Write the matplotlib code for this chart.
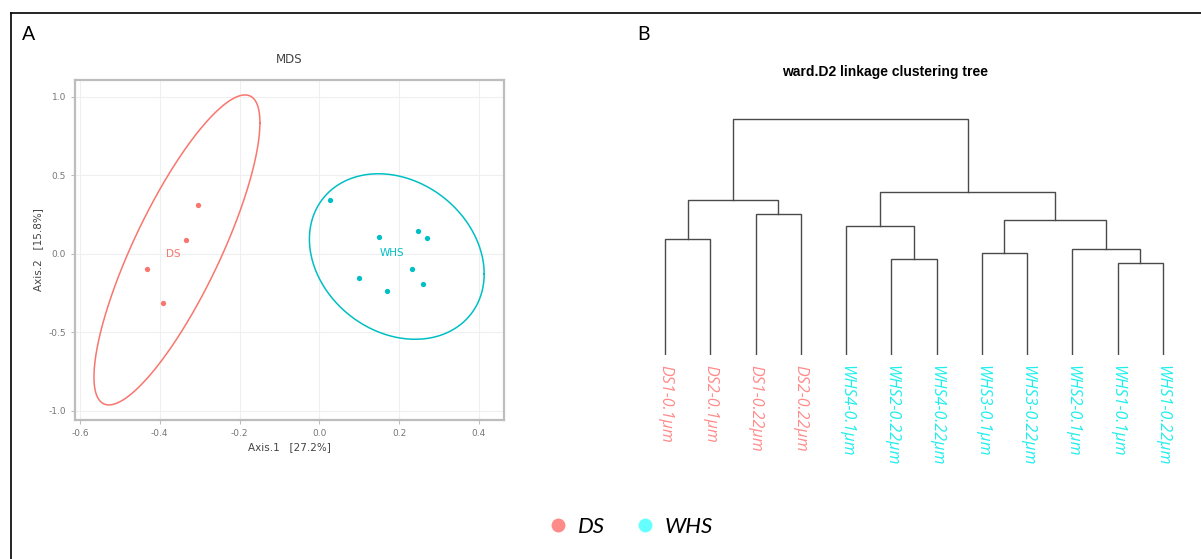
import numpy as np
import matplotlib.pyplot as plt
from matplotlib.lines import Line2D

# ---- panel A: MDS ordination ----
ds_x = [-0.304, -0.334, -0.433, -0.391]
ds_y = [0.312, 0.087, -0.097, -0.314]
whs_x = [0.027, 0.150, 0.246, 0.270, 0.233, 0.100, 0.169, 0.260]
whs_y = [0.342, 0.106, 0.145, 0.100, -0.098, -0.155, -0.236, -0.191]

# ellipse: centre x, centre y, half width, half height, correlation
ds_ell = [-0.357, 0.024, 0.208, 0.987, 0.82]
whs_ell = [0.194, -0.018, 0.219, 0.527, -0.21]

x_ticks = [-0.6, -0.4, -0.2, 0.0, 0.2, 0.4]
y_ticks = [-1.0, -0.5, 0.0, 0.5, 1.0]

# ---- panel B: ward.D2 tree ----
leaves = ["DS1-0.1μm", "DS2-0.1μm", "DS1-0.22μm", "DS2-0.22μm",
          "WHS4-0.1μm", "WHS2-0.22μm", "WHS4-0.22μm", "WHS3-0.1μm",
          "WHS3-0.22μm", "WHS2-0.1μm", "WHS1-0.1μm", "WHS1-0.22μm"]
leaf_group = ["DS"] * 4 + ["WHS"] * 8
# (left, right, height); ids >= 12 point at earlier merges
merges = [
    (0, 1, 1.16),
    (2, 3, 1.41),
    (12, 13, 1.55),
    (5, 6, 0.96),
    (4, 15, 1.29),
    (7, 8, 1.02),
    (10, 11, 0.92),
    (9, 18, 1.06),
    (17, 19, 1.35),
    (16, 20, 1.63),
    (14, 21, 2.36),
]

pt_col = {"DS": "#F8766D", "WHS": "#00BFC4"}
lab_col = {"DS": "#FF8A8A", "WHS": "#1EEEEE"}
leg_col = {"DS": "#FF8A8A", "WHS": "#66FFFF"}

W, H = 1201, 559
fig = plt.figure(figsize=(W / 100, H / 100), dpi=100)

# outer frame (top and left edges)
fig.add_artist(Line2D([10.7 / W, 1], [1 - 12.5 / H, 1 - 12.5 / H], color="black", lw=1.2))
fig.add_artist(Line2D([10.7 / W, 10.7 / W], [0, 1 - 12.5 / H], color="black", lw=1.2))

fig.text(22 / W, 1 - 35 / H, "A", fontsize=14, family="Lato", va="center")
fig.text(637 / W, 1 - 35 / H, "B", fontsize=14, family="Lato", va="center")

# ---- A ----
ax = fig.add_axes([75 / W, (H - 420) / H, 429 / W, 340 / H])
ax.set_xlim(-0.6125, 0.4627)
ax.set_ylim(-1.059, 1.106)
ax.grid(True, color="#EFEFEF", lw=0.8)
ax.set_axisbelow(True)
for s in ax.spines.values():
    s.set_color("#BDBDBD")
    s.set_linewidth(1.6)
ax.set_xticks(x_ticks)
ax.set_yticks(y_ticks)
ax.set_xticklabels([f"{v:.1f}" for v in x_ticks])
ax.set_yticklabels([f"{v:.1f}" for v in y_ticks])
ax.tick_params(colors="#BDBDBD", labelcolor="#777777", labelsize=6.5, length=3, width=0.8)

t = np.linspace(0, 2 * np.pi, 300)
for name, xs, ys, ell in [("DS", ds_x, ds_y, ds_ell), ("WHS", whs_x, whs_y, whs_ell)]:
    cx, cy, hx, hy, r = ell
    ex = cx + hx * np.cos(t)
    ey = cy + hy * (r * np.cos(t) + np.sqrt(1 - r ** 2) * np.sin(t))
    ax.plot(ex, ey, color=pt_col[name], lw=1.1)
    ax.plot(xs, ys, "o", color=pt_col[name], ms=3.8, mec="none")
    ax.text(np.mean(xs), np.mean(ys), name, color=pt_col[name], fontsize=7.5,
            ha="center", va="center")

ax.set_title("MDS", fontsize=8.5, color="#444444", pad=12)
ax.set_xlabel("Axis.1   [27.2%]", fontsize=7.5, color="#444444", labelpad=3)
ax.set_ylabel("Axis.2   [15.8%]", fontsize=7.5, color="#444444", labelpad=4)

# ---- B ----
bx = fig.add_axes([(665 - 22.625) / W, (H - 355) / H, 12 * 45.25 / W, 255 / H])
bx.set_xlim(-0.5, 11.5)
bx.set_ylim(0, 2.55)
bx.axis("off")

pos = {i: float(i) for i in range(len(leaves))}
hgt = {i: 0.0 for i in range(len(leaves))}
for k, (a, b, h) in enumerate(merges):
    bx.plot([pos[a], pos[a], pos[b], pos[b]], [hgt[a], h, h, hgt[b]],
            color="#4A4A4A", lw=1.0, solid_joinstyle="miter")
    pos[len(leaves) + k] = (pos[a] + pos[b]) / 2
    hgt[len(leaves) + k] = h

for i, (lab, g) in enumerate(zip(leaves, leaf_group)):
    bx.text(i, -0.1, lab, rotation=-90, ha="center", va="top", color=lab_col[g],
            fontsize=11.5, family=["Open Sans", "DejaVu Sans"], style="italic", clip_on=False)

fig.text(885 / W, 1 - 72 / H, "ward.D2 linkage clustering tree", fontsize=10,
         weight="bold", family="Liberation Sans", ha="center", va="center")

# ---- legend ----
handles = [Line2D([], [], marker="o", ls="", color=leg_col[g], ms=10, mec="none")
           for g in ["DS", "WHS"]]
fig.legend(handles, ["DS", "WHS"], loc="center", bbox_to_anchor=(630 / W, 1 - 527 / H),
           ncol=2, frameon=False, prop=dict(family="Lato", style="italic", size=16),
           handletextpad=0.4, columnspacing=1.3, handlelength=1.0)

fig.savefig("out.png", dpi=100)
